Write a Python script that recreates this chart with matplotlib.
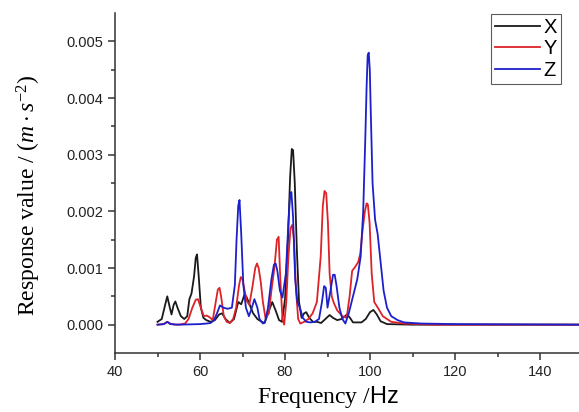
import numpy as np
import matplotlib

matplotlib.use("Agg")
import matplotlib.pyplot as plt

plt.rcParams["font.family"] = ["Liberation Sans", "DejaVu Sans"]
plt.rcParams["mathtext.fontset"] = "custom"
plt.rcParams["mathtext.rm"] = "Liberation Serif"
plt.rcParams["mathtext.it"] = "Liberation Serif:italic"
plt.rcParams["mathtext.sf"] = "Liberation Sans"

# ---------------------------------------------------------------------------
# Data
# ---------------------------------------------------------------------------
x_freq = [50.0, 51.0, 51.8, 52.3, 52.9, 53.3, 53.8, 54.2, 54.8, 55.5, 56.3, 57.0,
          57.5, 58.0, 58.6, 59.0, 59.3, 59.7, 60.2, 60.8, 61.5, 62.5, 63.5, 64.5,
          65.2, 66.0, 67.0, 68.0, 69.0, 69.7, 70.5, 71.0, 71.7, 72.5, 73.5, 74.5,
          75.2, 76.0, 77.0, 77.8, 78.6, 79.3, 80.0, 80.7, 81.2, 81.6, 81.9, 82.3,
          82.8, 83.3, 83.9, 84.5, 85.0, 85.7, 86.6, 87.5, 88.5, 89.5, 90.5, 91.3,
          92.3, 93.3, 94.6, 95.3, 96.0, 97.0, 98.0, 99.0, 100.0, 100.8, 101.6,
          102.5, 104.0, 110.0, 150.0]
x_vals = [0.00005, 0.00010, 0.00035, 0.00050, 0.00030, 0.00018, 0.00035, 0.00041,
          0.00028, 0.00015, 0.00010, 0.00015, 0.00045, 0.00055, 0.00085, 0.00118,
          0.00124, 0.00085, 0.00030, 0.00012, 0.00008, 0.00005, 0.00008, 0.00018,
          0.00020, 0.00010, 0.00003, 0.00010, 0.00040, 0.00036, 0.00054, 0.00048,
          0.00035, 0.00020, 0.00010, 0.00005, 0.00003, 0.00020, 0.00040, 0.00025,
          0.00008, 0.00005, 0.00045, 0.00150, 0.00260, 0.00310, 0.00308, 0.00250,
          0.00130, 0.00040, 0.00012, 0.00020, 0.00022, 0.00012, 0.00005, 0.00005,
          0.00003, 0.00010, 0.00017, 0.00012, 0.00008, 0.00010, 0.00018, 0.00012,
          0.00004, 0.00004, 0.00004, 0.00010, 0.00022, 0.00026, 0.00018, 0.00006,
          0.00001, 0.0, 0.0]

y_freq = [50.0, 51.5, 52.3, 53.0, 54.0, 55.0, 56.5, 57.3, 58.2, 59.0, 59.5, 60.2,
          60.9, 61.6, 62.3, 63.0, 63.7, 64.2, 64.6, 65.0, 65.6, 66.3, 67.0, 67.8,
          68.5, 69.2, 69.6, 70.0, 70.5, 71.0, 71.6, 72.3, 73.0, 73.4, 73.8, 74.3,
          74.8, 75.4, 76.2, 76.8, 77.5, 78.1, 78.5, 78.9, 79.4, 79.8, 80.3, 80.8,
          81.3, 81.7, 82.1, 82.6, 83.1, 83.6, 84.5, 85.5, 86.5, 87.5, 88.4, 88.9,
          89.3, 89.7, 90.1, 90.5, 91.0, 91.5, 92.3, 93.5, 94.5, 95.2, 95.8, 96.5,
          97.2, 97.7, 98.3, 98.8, 99.2, 99.5, 99.9, 100.4, 101.0, 102.0, 103.0,
          105.0, 108.0, 115.0, 150.0]
y_vals = [0.0, 0.00001, 0.00005, 0.00002, 0.0, 0.0, 0.00002, 0.00010, 0.00030,
          0.00044, 0.00045, 0.00030, 0.00015, 0.00016, 0.00013, 0.00008, 0.00040,
          0.00062, 0.00065, 0.00048, 0.00015, 0.00005, 0.00003, 0.00010, 0.00030,
          0.00070, 0.00084, 0.00080, 0.00060, 0.00042, 0.00035, 0.00065, 0.00100,
          0.00108, 0.00100, 0.00075, 0.00040, 0.00012, 0.00020, 0.00060, 0.00100,
          0.00150, 0.00155, 0.00080, 0.00010, 0.00000, 0.00040, 0.00120, 0.00170,
          0.00176, 0.00150, 0.00060, 0.00010, 0.00002, 0.00005, 0.00010, 0.00020,
          0.00040, 0.00120, 0.00210, 0.00236, 0.00232, 0.00180, 0.00090, 0.00050,
          0.00038, 0.00025, 0.00015, 0.00012, 0.00050, 0.00095, 0.00102, 0.00110,
          0.00125, 0.00170, 0.00200, 0.00214, 0.00212, 0.00180, 0.00090, 0.00040,
          0.00028, 0.00015, 0.00005, 0.00002, 0.0, 0.0]

z_freq = [50.0, 51.5, 52.3, 53.0, 55.0, 60.0, 61.5, 62.5, 63.3, 64.0, 64.7, 65.5,
          66.5, 67.5, 68.2, 68.6, 69.0, 69.3, 69.7, 70.2, 70.8, 71.5, 72.0, 72.8,
          73.5, 74.0, 74.8, 75.3, 76.0, 76.8, 77.4, 77.8, 78.2, 78.8, 79.4, 80.2,
          80.8, 81.2, 81.5, 81.9, 82.4, 82.9, 83.5, 84.2, 85.0, 86.0, 87.0, 88.0,
          88.7, 89.2, 89.6, 90.0, 90.7, 91.3, 91.7, 92.1, 92.8, 93.5, 94.2, 95.0,
          96.0, 97.0, 97.8, 98.4, 98.9, 99.2, 99.45, 99.7, 99.95, 100.2, 100.6,
          101.2, 101.8, 102.5, 103.2, 104.0, 105.0, 106.5, 108.0, 112.0, 120.0,
          150.0]
z_vals = [0.0, 0.00001, 0.00005, 0.00001, 0.0, 0.00001, 0.00002, 0.00003, 0.00008,
          0.00020, 0.00034, 0.00030, 0.00028, 0.00030, 0.00070, 0.00150, 0.00210,
          0.00220, 0.00160, 0.00070, 0.00030, 0.00015, 0.00025, 0.00045, 0.00030,
          0.00010, 0.00002, 0.00005, 0.00030, 0.00080, 0.00106, 0.00108, 0.00095,
          0.00060, 0.00048, 0.00090, 0.00180, 0.00228, 0.00234, 0.00190, 0.00080,
          0.00040, 0.00030, 0.00012, 0.00005, 0.00004, 0.00005, 0.00010, 0.00040,
          0.00068, 0.00065, 0.00030, 0.00060, 0.00088, 0.00088, 0.00070, 0.00030,
          0.00010, 0.00002, 0.00020, 0.00050, 0.00080, 0.00120, 0.00200, 0.00330,
          0.00420, 0.00475, 0.00480, 0.00450, 0.00370, 0.00250, 0.00185, 0.00160,
          0.00110, 0.00060, 0.00030, 0.00015, 0.00008, 0.00004, 0.00002, 0.00001,
          0.0]

series = [("X", x_freq, x_vals, "#1a1a1a"),
          ("Y", y_freq, y_vals, "#dd2228"),
          ("Z", z_freq, z_vals, "#1c20cc")]

# ---------------------------------------------------------------------------
# Figure
# ---------------------------------------------------------------------------
fig = plt.figure(figsize=(5.79, 4.12), dpi=100)
ax = fig.add_axes([115 / 579, 1 - 353 / 412, 467.5 / 579, 340 / 412])

for name, f, v, col in series:
    ax.plot(f, v, color=col, lw=1.3, label=name)

ax.set_xlim(40, 150)
ax.set_ylim(-0.0005, 0.0055)
ax.set_xticks([40, 60, 80, 100, 120, 140])
ax.set_xticks(np.arange(50, 150, 20), minor=True)
ax.set_yticks([0.000, 0.001, 0.002, 0.003, 0.004, 0.005])
ax.set_yticklabels(["0.000", "0.001", "0.002", "0.003", "0.004", "0.005"])
ax.set_yticks([0.0005, 0.0015, 0.0025, 0.0035, 0.0045], minor=True)

for side in ("top", "right"):
    ax.spines[side].set_visible(False)
for side in ("left", "bottom"):
    ax.spines[side].set_linewidth(1.1)
    ax.spines[side].set_color("#333333")

ax.tick_params(which="major", direction="out", length=5, width=1.1,
               labelsize=10.5, colors="#333333")
ax.tick_params(which="minor", direction="out", length=3, width=1.1,
               colors="#333333")
ax.tick_params(labelcolor="#222222")

ax.set_xlabel(r"Frequency /$\mathsf{Hz}$", family="Liberation Serif",
              fontsize=17, labelpad=4)
ax.xaxis.set_label_coords(0.456, -0.09)
ax.set_ylabel(r"Response value / $(m\cdot s^{-2})$", family="Liberation Serif",
              fontsize=17)
ax.yaxis.set_label_coords(-0.155, 0.465)

leg = ax.legend(loc="upper right", bbox_to_anchor=(561 / 579, 1 - 14 / 412),
                bbox_transform=fig.transFigure, fontsize=14.5, frameon=True,
                fancybox=False, edgecolor="#333333", handlelength=2.2,
                handletextpad=0.2, labelspacing=0.12, borderpad=0.2,
                borderaxespad=0)
leg.get_frame().set_linewidth(0.8)

fig.savefig("out.png", dpi=100, facecolor="white")
